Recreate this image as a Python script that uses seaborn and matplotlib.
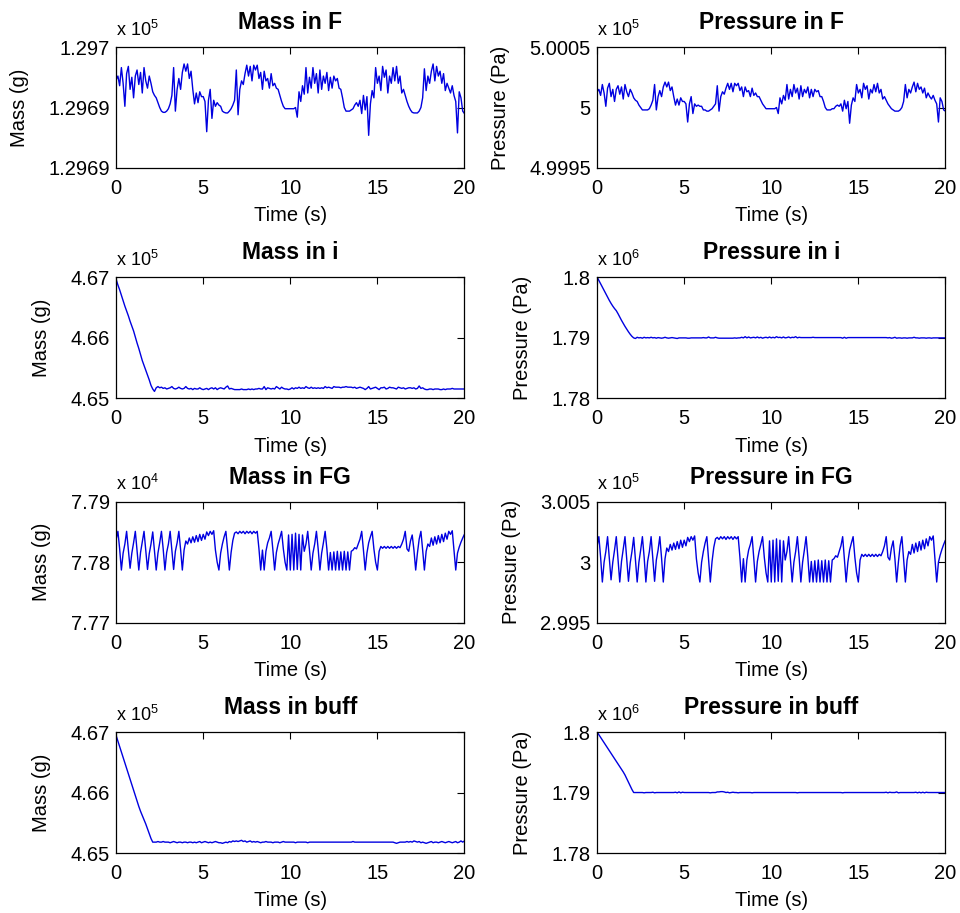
import numpy as np
import matplotlib
matplotlib.use('Agg')
import matplotlib.pyplot as plt
import seaborn as sns
from matplotlib.ticker import FuncFormatter

# time axis (s), sampled every 0.1 s
time = np.linspace(0, 20, 201)

mass_F = [
    129695.3, 129695.6, 129694.8, 129696.3, 129695.0, 129693.1, 129695.8, 129696.4, 129694.5, 129695.5,
    129693.8, 129695.6, 129696.1, 129694.9, 129695.9, 129694.2, 129696.3, 129695.2, 129694.6, 129695.6,
    129695.0, 129694.3, 129694.0, 129693.8, 129693.4, 129693.0, 129692.7, 129692.6, 129692.6, 129692.7,
    129692.9, 129693.3, 129694.0, 129696.3, 129692.7, 129694.5, 129695.4, 129694.5, 129695.9, 129696.6,
    129696.0, 129696.6, 129695.4, 129696.0, 129694.5, 129693.3, 129694.2, 129693.4, 129694.3, 129693.9,
    129693.9, 129693.5, 129691.0, 129693.6, 129694.5, 129692.1, 129693.6, 129693.1, 129693.4, 129693.2,
    129693.1, 129692.7, 129692.6, 129692.55, 129692.55, 129692.7, 129692.9, 129693.2, 129693.6, 129696.1,
    129692.4, 129694.5, 129695.2, 129694.9, 129695.8, 129696.5, 129695.6, 129696.4, 129695.2, 129696.5,
    129696.1, 129696.5, 129695.4, 129695.9, 129694.5, 129696.0, 129695.2, 129695.4, 129694.6, 129695.8,
    129694.8, 129695.0, 129694.6, 129694.5, 129694.0, 129693.5, 129693.1, 129692.9, 129692.9, 129692.9,
    129692.9, 129692.9, 129692.9, 129693.0, 129692.2, 129694.3, 129693.5, 129694.8, 129694.1, 129696.3,
    129694.2, 129695.5, 129694.6, 129696.3, 129695.0, 129695.8, 129694.2, 129696.1, 129694.5, 129695.6,
    129695.0, 129695.9, 129694.4, 129695.5, 129694.6, 129695.6, 129695.2, 129695.4, 129694.6, 129694.5,
    129693.8, 129693.0, 129692.7, 129692.7, 129692.7, 129692.8, 129692.9, 129693.2, 129693.4, 129693.1,
    129693.6, 129692.5, 129694.0, 129692.8, 129693.9, 129690.7, 129693.3, 129694.4, 129693.8, 129696.3,
    129695.0, 129695.6, 129694.4, 129696.4, 129695.5, 129696.1, 129694.2, 129695.6, 129695.0, 129696.3,
    129695.2, 129696.4, 129695.0, 129695.6, 129694.2, 129694.5, 129694.0, 129693.5, 129693.1, 129692.8,
    129692.6, 129692.55, 129692.55, 129692.55, 129692.7, 129693.0, 129693.8, 129696.2, 129694.4, 129695.6,
    129695.0, 129696.0, 129696.6, 129695.2, 129696.4, 129695.6, 129696.0, 129695.0, 129695.8, 129694.4,
    129695.0, 129694.6, 129694.2, 129694.8, 129694.0, 129693.5, 129690.9, 129694.3, 129693.8, 129692.7,
    129692.5,
]

pressure_F = [
    500013, 500015, 500010, 500019, 500012, 500001, 500016, 500020, 500009, 500015,
    500005, 500015, 500018, 500011, 500017, 500007, 500019, 500013, 500009, 500015,
    500012, 500008, 500006, 500005, 500002, 500000, 499998, 499998, 499998, 499998,
    499999, 500002, 500006, 500019, 499998, 500009, 500014, 500009, 500017, 500021,
    500017, 500021, 500014, 500017, 500009, 500002, 500007, 500002, 500008, 500005,
    500005, 500003, 499988, 500003, 500009, 499995, 500003, 500001, 500002, 500001,
    500001, 499998, 499998, 499997, 499997, 499998, 499999, 500001, 500003, 500018,
    499997, 500009, 500013, 500011, 500016, 500020, 500015, 500020, 500013, 500020,
    500018, 500020, 500014, 500017, 500009, 500017, 500013, 500014, 500009, 500016,
    500010, 500012, 500009, 500009, 500006, 500003, 500001, 499999, 499999, 499999,
    499999, 499999, 499999, 500000, 499995, 500008, 500003, 500010, 500006, 500019,
    500007, 500015, 500009, 500019, 500012, 500016, 500007, 500018, 500009, 500015,
    500012, 500017, 500008, 500015, 500009, 500015, 500013, 500014, 500009, 500009,
    500005, 500000, 499998, 499998, 499998, 499999, 499999, 500001, 500002, 500001,
    500003, 499997, 500006, 499999, 500005, 499987, 500002, 500008, 500005, 500019,
    500012, 500015, 500008, 500020, 500015, 500018, 500007, 500015, 500012, 500019,
    500013, 500020, 500012, 500015, 500007, 500009, 500006, 500003, 500001, 499999,
    499998, 499997, 499997, 499997, 499998, 500000, 500005, 500019, 500008, 500015,
    500012, 500017, 500021, 500013, 500020, 500015, 500017, 500012, 500016, 500008,
    500012, 500009, 500007, 500010, 500006, 500003, 499988, 500008, 500005, 499998,
    499997,
]

mass_i = [
    466960, 466870, 466790, 466700, 466610, 466520, 466440, 466360, 466270, 466190,
    466110, 466010, 465910, 465820, 465720, 465620, 465540, 465460, 465380, 465300,
    465210, 465150, 465110, 465170, 465190, 465170, 465180, 465160, 465170, 465150,
    465160, 465170, 465190, 465160, 465150, 465160, 465180, 465160, 465150, 465160,
    465190, 465160, 465150, 465160, 465140, 465160, 465150, 465150, 465170, 465150,
    465140, 465150, 465160, 465140, 465160, 465170, 465150, 465170, 465140, 465160,
    465170, 465160, 465150, 465180, 465200, 465150, 465160, 465150, 465140, 465140,
    465140, 465140, 465150, 465140, 465140, 465140, 465150, 465140, 465150, 465140,
    465150, 465150, 465160, 465150, 465150, 465190, 465140, 465170, 465160, 465150,
    465160, 465150, 465190, 465170, 465150, 465180, 465160, 465150, 465150, 465140,
    465150, 465170, 465150, 465170, 465160, 465180, 465160, 465170, 465160, 465190,
    465170, 465160, 465180, 465160, 465170, 465160, 465170, 465160, 465170, 465160,
    465190, 465170, 465180, 465170, 465160, 465190, 465180, 465180, 465180, 465170,
    465180, 465180, 465190, 465180, 465180, 465180, 465170, 465180, 465160, 465170,
    465180, 465170, 465160, 465140, 465160, 465190, 465150, 465160, 465170, 465180,
    465160, 465140, 465170, 465170, 465180, 465150, 465160, 465180, 465170, 465170,
    465160, 465150, 465180, 465170, 465160, 465170, 465150, 465160, 465170, 465170,
    465160, 465170, 465150, 465160, 465200, 465160, 465170, 465150, 465140, 465140,
    465150, 465150, 465140, 465150, 465150, 465150, 465140, 465140, 465150, 465140,
    465150, 465150, 465150, 465160, 465150, 465150, 465150, 465150, 465150, 465150,
    465150,
]

pressure_i = [
    1800000, 1799450, 1798900, 1798350, 1797800, 1797250, 1796700, 1796150, 1795650, 1795200,
    1794800, 1794450, 1793950, 1793400, 1792850, 1792350, 1791850, 1791400, 1790950, 1790550,
    1790200, 1789950, 1789850, 1790050, 1789950, 1790000, 1789900, 1790050, 1789950, 1790000,
    1789950, 1790050, 1789950, 1790000, 1789900, 1790000, 1789950, 1789900, 1789950, 1790050,
    1789950, 1789900, 1789950, 1790000, 1789950, 1789900, 1789850, 1789950, 1789950, 1789950,
    1789950, 1789950, 1789900, 1789900, 1789950, 1789950, 1789950, 1789950, 1789950, 1789950,
    1789950, 1790000, 1789950, 1789950, 1790100, 1789950, 1789950, 1789950, 1790050, 1789950,
    1789900, 1789900, 1789900, 1789900, 1789900, 1789900, 1789900, 1789900, 1789900, 1789950,
    1789900, 1789950, 1789950, 1790050, 1789950, 1790150, 1789950, 1790100, 1789950, 1790000,
    1790050, 1789950, 1790100, 1789950, 1790050, 1789900, 1790000, 1790050, 1789950, 1790100,
    1789950, 1790050, 1789950, 1790150, 1790000, 1790050, 1789950, 1790100, 1789950, 1790000,
    1790100, 1789950, 1790050, 1790000, 1790150, 1789950, 1790050, 1790000, 1790000, 1790000,
    1790000, 1790000, 1790000, 1790000, 1790050, 1790000, 1790000, 1790000, 1790000, 1790000,
    1790000, 1790000, 1790000, 1790000, 1790000, 1790000, 1790000, 1790000, 1790000, 1790000,
    1790000, 1789900, 1790050, 1789900, 1790000, 1790000, 1790000, 1790000, 1790000, 1790000,
    1790000, 1790000, 1790000, 1790000, 1790000, 1790000, 1790000, 1790000, 1790000, 1790000,
    1790000, 1790000, 1790000, 1790000, 1790000, 1790000, 1790000, 1789950, 1790000, 1789900,
    1789950, 1790050, 1789900, 1789950, 1789950, 1789900, 1789950, 1789950, 1789900, 1789950,
    1789950, 1789950, 1790050, 1789950, 1789950, 1789900, 1789950, 1789950, 1789950, 1789900,
    1789950, 1789950, 1789900, 1789950, 1789950, 1789950, 1789950, 1789950, 1789950, 1789950,
    1789950,
]

mass_FG = [
    77838, 77851, 77822, 77787, 77815, 77830, 77851, 77820, 77790, 77815,
    77832, 77851, 77818, 77787, 77816, 77833, 77851, 77820, 77788, 77814,
    77830, 77850, 77819, 77787, 77815, 77832, 77851, 77822, 77787, 77816,
    77830, 77851, 77820, 77788, 77818, 77832, 77851, 77821, 77787, 77820,
    77835, 77830, 77840, 77832, 77842, 77833, 77844, 77834, 77846, 77836,
    77846, 77838, 77850, 77844, 77851, 77846, 77852, 77820, 77800, 77787,
    77815, 77830, 77842, 77851, 77820, 77787, 77816, 77836, 77848, 77850,
    77847, 77851, 77848, 77851, 77847, 77851, 77848, 77851, 77847, 77851,
    77848, 77851, 77822, 77787, 77820, 77787, 77818, 77832, 77840, 77851,
    77820, 77787, 77816, 77830, 77840, 77851, 77822, 77800, 77787, 77845,
    77787, 77846, 77787, 77848, 77788, 77846, 77787, 77845, 77818, 77830,
    77851, 77820, 77787, 77815, 77830, 77851, 77822, 77787, 77815, 77832,
    77851, 77822, 77787, 77816, 77787, 77817, 77787, 77818, 77787, 77817,
    77787, 77818, 77787, 77817, 77787, 77818, 77820, 77824, 77822, 77830,
    77838, 77851, 77820, 77787, 77815, 77832, 77842, 77851, 77822, 77800,
    77787, 77818, 77826, 77823, 77826, 77823, 77826, 77823, 77826, 77823,
    77826, 77823, 77826, 77824, 77830, 77838, 77851, 77822, 77818, 77835,
    77845, 77820, 77787, 77815, 77838, 77851, 77820, 77787, 77818, 77830,
    77826, 77840, 77828, 77842, 77830, 77844, 77832, 77846, 77834, 77848,
    77838, 77851, 77846, 77852, 77820, 77787, 77815, 77825, 77833, 77840,
    77846,
]

pressure_FG = [
    300135, 300211, 300041, 299836, 300000, 300088, 300211, 300029, 299854, 300000,
    300100, 300211, 300018, 299836, 300006, 300106, 300211, 300029, 299842, 299994,
    300088, 300205, 300023, 299836, 300000, 300100, 300211, 300041, 299836, 300006,
    300088, 300211, 300029, 299842, 300018, 300100, 300211, 300035, 299836, 300029,
    300117, 300088, 300147, 300100, 300158, 300106, 300170, 300111, 300182, 300123,
    300182, 300135, 300205, 300170, 300211, 300182, 300217, 300029, 299912, 299836,
    300000, 300088, 300158, 300211, 300029, 299836, 300006, 300123, 300193, 300205,
    300188, 300211, 300193, 300211, 300188, 300211, 300193, 300211, 300188, 300211,
    300193, 300211, 300041, 299836, 300029, 299836, 300018, 300100, 300147, 300211,
    300029, 299836, 300006, 300088, 300147, 300211, 300041, 299912, 299836, 300176,
    299836, 300182, 299836, 300193, 299842, 300182, 299836, 300176, 300018, 300088,
    300211, 300029, 299836, 300000, 300088, 300211, 300041, 299836, 300000, 300100,
    300211, 300041, 299836, 300006, 299836, 300012, 299836, 300018, 299836, 300012,
    299836, 300018, 299836, 300012, 299836, 300018, 300029, 300053, 300041, 300088,
    300135, 300211, 300029, 299836, 300000, 300100, 300158, 300211, 300041, 299912,
    299836, 300018, 300065, 300047, 300065, 300047, 300065, 300047, 300065, 300047,
    300065, 300047, 300065, 300053, 300088, 300135, 300211, 300041, 300018, 300117,
    300176, 300029, 299836, 300000, 300135, 300211, 300029, 299836, 300018, 300088,
    300065, 300147, 300076, 300158, 300088, 300170, 300100, 300182, 300111, 300193,
    300135, 300211, 300182, 300217, 300029, 299836, 300000, 300059, 300106, 300147,
    300182,
]

mass_buff = [
    466940, 466850, 466760, 466670, 466580, 466490, 466400, 466310, 466220, 466130,
    466040, 465950, 465860, 465770, 465690, 465620, 465550, 465480, 465400, 465320,
    465240, 465180, 465180, 465180, 465190, 465180, 465180, 465190, 465180, 465180,
    465180, 465170, 465180, 465190, 465180, 465170, 465180, 465180, 465170, 465180,
    465180, 465170, 465180, 465180, 465170, 465180, 465170, 465180, 465190, 465170,
    465180, 465190, 465180, 465170, 465180, 465170, 465180, 465190, 465180, 465170,
    465170, 465160, 465170, 465180, 465170, 465190, 465180, 465200, 465190, 465200,
    465190, 465200, 465210, 465190, 465200, 465180, 465190, 465200, 465180, 465190,
    465180, 465190, 465180, 465170, 465180, 465180, 465190, 465180, 465180, 465180,
    465170, 465180, 465180, 465180, 465170, 465180, 465190, 465180, 465180, 465180,
    465180, 465180, 465180, 465170, 465180, 465180, 465180, 465180, 465180, 465180,
    465170, 465180, 465180, 465180, 465180, 465180, 465180, 465180, 465180, 465180,
    465180, 465180, 465180, 465180, 465180, 465180, 465180, 465180, 465180, 465180,
    465180, 465180, 465180, 465180, 465180, 465180, 465190, 465180, 465180, 465180,
    465180, 465180, 465180, 465180, 465180, 465180, 465180, 465180, 465180, 465180,
    465180, 465180, 465180, 465180, 465180, 465180, 465180, 465180, 465180, 465180,
    465170, 465160, 465170, 465180, 465180, 465180, 465180, 465190, 465180, 465190,
    465180, 465200, 465190, 465180, 465190, 465170, 465180, 465170, 465160, 465170,
    465180, 465190, 465170, 465180, 465180, 465170, 465180, 465190, 465180, 465170,
    465180, 465190, 465180, 465170, 465180, 465190, 465170, 465180, 465200, 465180,
    465200,
]

pressure_buff = [
    1800000, 1799560, 1799120, 1798680, 1798240, 1797800, 1797360, 1796920, 1796480, 1796040,
    1795600, 1795160, 1794720, 1794280, 1793840, 1793400, 1792900, 1792300, 1791700, 1791100,
    1790500, 1790000, 1790000, 1790000, 1790000, 1790000, 1790000, 1789950, 1790000, 1790000,
    1790000, 1790000, 1790050, 1789950, 1790000, 1790000, 1790000, 1790000, 1790000, 1790000,
    1790000, 1790000, 1790000, 1790000, 1790000, 1790050, 1789950, 1790100, 1789950, 1790050,
    1790000, 1790000, 1790000, 1790000, 1790000, 1790000, 1790000, 1790000, 1790000, 1790000,
    1790000, 1790000, 1790000, 1790000, 1790000, 1789950, 1790000, 1790000, 1790000, 1790100,
    1790100, 1790150, 1790150, 1790100, 1790000, 1790050, 1789950, 1790000, 1790050, 1790000,
    1790000, 1789950, 1790000, 1790000, 1790000, 1790000, 1790000, 1790000, 1790000, 1789950,
    1790000, 1790000, 1790000, 1790000, 1790000, 1790000, 1790000, 1790000, 1790000, 1790000,
    1790000, 1790000, 1790000, 1790000, 1790000, 1790000, 1790000, 1790000, 1790000, 1790000,
    1790000, 1790000, 1790000, 1790000, 1790000, 1789950, 1790000, 1790000, 1790000, 1790000,
    1790000, 1790000, 1790000, 1790000, 1790000, 1790000, 1790000, 1790000, 1790000, 1790000,
    1790000, 1790000, 1790000, 1790000, 1790000, 1790000, 1790000, 1790000, 1790000, 1790000,
    1790000, 1789950, 1790000, 1790000, 1790000, 1790000, 1790000, 1790000, 1790000, 1790000,
    1790000, 1790000, 1790000, 1790000, 1790000, 1790000, 1790000, 1790000, 1790000, 1790000,
    1790000, 1790000, 1790000, 1790000, 1790000, 1790000, 1790050, 1789950, 1790050, 1790000,
    1790000, 1790000, 1790100, 1789950, 1790000, 1790000, 1790000, 1790000, 1790000, 1790000,
    1790000, 1790000, 1790000, 1790050, 1789950, 1790050, 1789950, 1790050, 1789950, 1790050,
    1790000, 1790000, 1790000, 1790000, 1790000, 1790000, 1790000, 1790000, 1790000, 1790000,
    1790000,
]

# title, ylabel, data, y limits, power of ten shown above the axis
panels = [
    ('Mass in F', 'Mass (g)', mass_F, (129688, 129698), 5),
    ('Pressure in F', 'Pressure (Pa)', pressure_F, (499950, 500050), 5),
    ('Mass in i', 'Mass (g)', mass_i, (465000, 467000), 5),
    ('Pressure in i', 'Pressure (Pa)', pressure_i, (1780000, 1800000), 6),
    ('Mass in FG', 'Mass (g)', mass_FG, (77700, 77900), 4),
    ('Pressure in FG', 'Pressure (Pa)', pressure_FG, (299500, 300500), 5),
    ('Mass in buff', 'Mass (g)', mass_buff, (465000, 467000), 5),
    ('Pressure in buff', 'Pressure (Pa)', pressure_buff, (1780000, 1800000), 6),
]

sns.set_theme(style='white')
plt.rcParams['font.family'] = ['Liberation Sans', 'DejaVu Sans']
plt.rcParams['mathtext.fontset'] = 'custom'
plt.rcParams['mathtext.rm'] = 'Liberation Sans'
plt.rcParams['text.color'] = 'black'
plt.rcParams['axes.labelcolor'] = 'black'
plt.rcParams['axes.titlecolor'] = 'black'

fig = plt.figure(figsize=(9.6, 9.13), dpi=100)
fig.patch.set_facecolor('white')

lefts = [0.121, 0.622]
bottoms = [0.816, 0.564, 0.318, 0.0657]
w, h = 0.3628, 0.1325

for k, (title, ylabel, vals, ylim, expo) in enumerate(panels):
    row, col = divmod(k, 2)
    ax = fig.add_axes([lefts[col], bottoms[row], w, h])
    sns.lineplot(x=time, y=vals, ax=ax, color='#0000e0', linewidth=1.0,
                 estimator=None, sort=False)
    ax.set_xlim(0, 20)
    ax.set_ylim(*ylim)
    ax.set_xticks([0, 5, 10, 15, 20])
    ax.set_yticks([ylim[0], (ylim[0] + ylim[1]) / 2, ylim[1]])
    ax.yaxis.set_major_formatter(FuncFormatter(lambda v, p, e=expo: '%.5g' % (v / 10 ** e)))
    ax.tick_params(direction='in', length=5, width=0.8, top=True, right=True,
                   labelsize=14.5, colors='black')
    ax.tick_params(axis='x', pad=8)
    ax.tick_params(axis='y', pad=4.5)
    for s in ax.spines.values():
        s.set_color('black')
        s.set_linewidth(0.9)
    ax.set_title(title, fontsize=16.5, fontweight='bold', pad=13)
    ax.set_xlabel('Time (s)', fontsize=14.5, labelpad=6)
    ax.set_ylabel(ylabel, fontsize=14.5, labelpad=14)
    ax.text(0.0, 1.06, r'x 10$^{%d}$' % expo, transform=ax.transAxes,
            fontsize=13, ha='left', va='bottom')

fig.savefig('out.png', dpi=100, facecolor='white')
